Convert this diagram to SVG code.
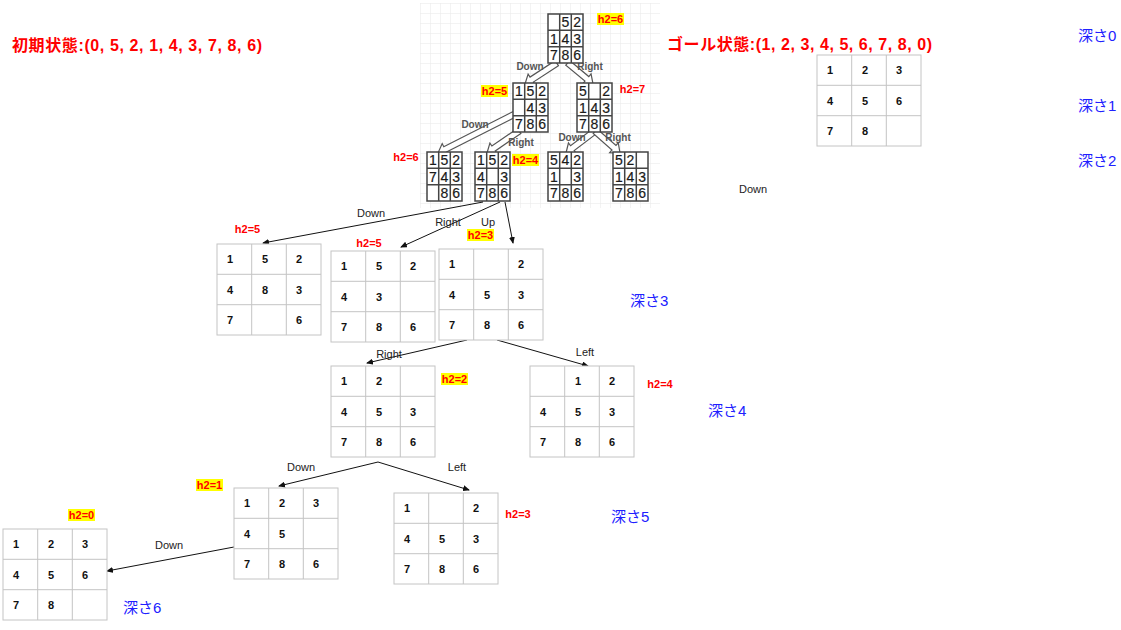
<svg xmlns="http://www.w3.org/2000/svg" xmlns:xlink="http://www.w3.org/1999/xlink" width="1121" height="630" viewBox="0 0 1121 630">
<style>
text{font-family:"Liberation Sans","Noto Sans CJK JP",sans-serif}
.title{font-size:16px;font-weight:bold;fill:#ff0000}
.depth{font-size:15px;fill:#2020ff}
.h2{font-size:11px;font-weight:bold;fill:#ff0000;text-anchor:middle}
.hl{fill:#ffff00}
.cell{font-size:11px;font-weight:bold;fill:#111}
.elab{font-size:11px;fill:#222;text-anchor:middle}
.slab{font-size:10px;font-weight:bold;fill:#555;text-anchor:middle}
.sd{font-size:14px;fill:#1a1a1a;text-anchor:middle;stroke:#1a1a1a;stroke-width:0.2}
.conn{stroke:#111;stroke-width:1;fill:none}
.flex{fill:#fff;stroke:#555;stroke-width:1.2}
</style>
<defs>
<pattern id="gridpat" width="10" height="10" patternUnits="userSpaceOnUse" x="420" y="3">
<path d="M10 0H0V10" fill="none" stroke="#e8e8e8" stroke-width="1"/>
</pattern>
<g id="board">
<rect x="0" y="0" width="104" height="91" fill="#fff" stroke="#c4c4c4"/>
<path d="M34.7 0V91M69.3 0V91M0 30.3H104M0 60.7H104" stroke="#c4c4c4" fill="none"/>
</g>
<g id="sboard">
<rect x="0" y="0" width="35" height="49" fill="#fff" stroke="#444" stroke-width="1.5"/>
<path d="M11.7 0V49M23.3 0V49M0 16.3H35M0 32.7H35" stroke="#444" stroke-width="1.5" fill="none"/>
</g>
<marker id="arr" markerWidth="7" markerHeight="6" refX="6" refY="3" orient="auto" markerUnits="userSpaceOnUse">
<path d="M0 0L7 3L0 6Z" fill="#111"/>
</marker>
</defs>
<rect width="1121" height="630" fill="#fff"/>

<g id="image-area">
<rect x="420" y="3" width="240" height="205" fill="url(#gridpat)"/>
</g>

<g id="titles">
<text class="title" x="12" y="51" textLength="250" lengthAdjust="spacing">初期状態:(0, 5, 2, 1, 4, 3, 7, 8, 6)</text>
<text class="title" x="667" y="50" textLength="265" lengthAdjust="spacing">ゴール状態:(1, 2, 3, 4, 5, 6, 7, 8, 0)</text>
</g>

<g id="depths">
<text class="depth" x="1078" y="41">深さ0</text>
<text class="depth" x="1078" y="111">深さ1</text>
<text class="depth" x="1078" y="166">深さ2</text>
<text class="depth" x="630" y="306">深さ3</text>
<text class="depth" x="708" y="416">深さ4</text>
<text class="depth" x="611" y="522">深さ5</text>
<text class="depth" x="123" y="613">深さ6</text>
</g>

<g id="flex-connectors">
<polygon class="flex" transform="translate(525,84) rotate(146.7)" points="-38,-3 -8,-3 -8,-6.5 0,0 -8,6.5 -8,3 -38,3"/>
<polygon class="flex" transform="translate(593,84) rotate(40)" points="-33,-3 -8,-3 -8,-6.5 0,0 -8,6.5 -8,3 -33,3"/>
<polygon class="flex" transform="translate(438,153) rotate(153.1)" points="-88,-3 -8,-3 -8,-6.5 0,0 -8,6.5 -8,3 -88,3"/>
<polygon class="flex" transform="translate(487,153) rotate(145.5)" points="-39,-3 -8,-3 -8,-6.5 0,0 -8,6.5 -8,3 -39,3"/>
<polygon class="flex" transform="translate(566,153) rotate(142.8)" points="-36,-3 -8,-3 -8,-6.5 0,0 -8,6.5 -8,3 -36,3"/>
<polygon class="flex" transform="translate(620,153) rotate(41.3)" points="-33,-3 -8,-3 -8,-6.5 0,0 -8,6.5 -8,3 -33,3"/>
<text class="slab" x="530" y="70">Down</text>
<text class="slab" x="590" y="70">Right</text>
<text class="slab" x="475" y="128">Down</text>
<text class="slab" x="521" y="146">Right</text>
<text class="slab" x="572" y="141">Down</text>
<text class="slab" x="618" y="141">Right</text>
</g>

<g id="s-top" transform="translate(548,14)">
<use href="#sboard"/>
<text class="sd" x="17.5" y="13.3">5</text><text class="sd" x="29.2" y="13.3">2</text>
<text class="sd" x="5.8" y="29.6">1</text><text class="sd" x="17.5" y="29.6">4</text><text class="sd" x="29.2" y="29.6">3</text>
<text class="sd" x="5.8" y="45.9">7</text><text class="sd" x="17.5" y="45.9">8</text><text class="sd" x="29.2" y="45.9">6</text>
</g>
<g id="s-l1a" transform="translate(513,83)">
<use href="#sboard"/>
<text class="sd" x="5.8" y="13.3">1</text><text class="sd" x="17.5" y="13.3">5</text><text class="sd" x="29.2" y="13.3">2</text>
<text class="sd" x="17.5" y="29.6">4</text><text class="sd" x="29.2" y="29.6">3</text>
<text class="sd" x="5.8" y="45.9">7</text><text class="sd" x="17.5" y="45.9">8</text><text class="sd" x="29.2" y="45.9">6</text>
</g>
<g id="s-l1b" transform="translate(577,83)">
<use href="#sboard"/>
<text class="sd" x="5.8" y="13.3">5</text><text class="sd" x="29.2" y="13.3">2</text>
<text class="sd" x="5.8" y="29.6">1</text><text class="sd" x="17.5" y="29.6">4</text><text class="sd" x="29.2" y="29.6">3</text>
<text class="sd" x="5.8" y="45.9">7</text><text class="sd" x="17.5" y="45.9">8</text><text class="sd" x="29.2" y="45.9">6</text>
</g>
<g id="s-l2a" transform="translate(427,152)">
<use href="#sboard"/>
<text class="sd" x="5.8" y="13.3">1</text><text class="sd" x="17.5" y="13.3">5</text><text class="sd" x="29.2" y="13.3">2</text>
<text class="sd" x="5.8" y="29.6">7</text><text class="sd" x="17.5" y="29.6">4</text><text class="sd" x="29.2" y="29.6">3</text>
<text class="sd" x="17.5" y="45.9">8</text><text class="sd" x="29.2" y="45.9">6</text>
</g>
<g id="s-l2b" transform="translate(475,152)">
<use href="#sboard"/>
<text class="sd" x="5.8" y="13.3">1</text><text class="sd" x="17.5" y="13.3">5</text><text class="sd" x="29.2" y="13.3">2</text>
<text class="sd" x="5.8" y="29.6">4</text><text class="sd" x="29.2" y="29.6">3</text>
<text class="sd" x="5.8" y="45.9">7</text><text class="sd" x="17.5" y="45.9">8</text><text class="sd" x="29.2" y="45.9">6</text>
</g>
<g id="s-l2c" transform="translate(548,152)">
<use href="#sboard"/>
<text class="sd" x="5.8" y="13.3">5</text><text class="sd" x="17.5" y="13.3">4</text><text class="sd" x="29.2" y="13.3">2</text>
<text class="sd" x="5.8" y="29.6">1</text><text class="sd" x="29.2" y="29.6">3</text>
<text class="sd" x="5.8" y="45.9">7</text><text class="sd" x="17.5" y="45.9">8</text><text class="sd" x="29.2" y="45.9">6</text>
</g>
<g id="s-l2d" transform="translate(613,152)">
<use href="#sboard"/>
<text class="sd" x="5.8" y="13.3">5</text><text class="sd" x="17.5" y="13.3">2</text>
<text class="sd" x="5.8" y="29.6">1</text><text class="sd" x="17.5" y="29.6">4</text><text class="sd" x="29.2" y="29.6">3</text>
<text class="sd" x="5.8" y="45.9">7</text><text class="sd" x="17.5" y="45.9">8</text><text class="sd" x="29.2" y="45.9">6</text>
</g>

<g id="h2-labels">
<rect class="hl" x="597" y="13" width="27" height="12"/><text class="h2" x="610.5" y="23">h2=6</text>
<rect class="hl" x="481" y="85" width="27" height="12"/><text class="h2" x="494.5" y="95">h2=5</text>
<text class="h2" x="632.5" y="93">h2=7</text>
<text class="h2" x="406" y="161">h2=6</text>
<rect class="hl" x="512" y="154" width="27" height="12"/><text class="h2" x="525.5" y="164">h2=4</text>
<text class="h2" x="247.5" y="233">h2=5</text>
<text class="h2" x="369" y="247">h2=5</text>
<rect class="hl" x="467" y="229" width="27" height="12"/><text class="h2" x="480.5" y="239">h2=3</text>
<rect class="hl" x="441" y="373" width="27" height="12"/><text class="h2" x="454.5" y="383">h2=2</text>
<text class="h2" x="660" y="388">h2=4</text>
<rect class="hl" x="196" y="479" width="27" height="12"/><text class="h2" x="209.5" y="489">h2=1</text>
<text class="h2" x="518" y="518">h2=3</text>
<rect class="hl" x="68" y="509" width="27" height="12"/><text class="h2" x="81.5" y="519">h2=0</text>
</g>

<g id="connectors">
<path class="conn" d="M483 202L263 243" marker-end="url(#arr)"/>
<path class="conn" d="M500 202L401 247" marker-end="url(#arr)"/>
<path class="conn" d="M505 202L513 243" marker-end="url(#arr)"/>
<path class="conn" d="M467 340L367 363" marker-end="url(#arr)"/>
<path class="conn" d="M497 340L588 366" marker-end="url(#arr)"/>
<path class="conn" d="M378 462L279 486" marker-end="url(#arr)"/>
<path class="conn" d="M378 462L469 490" marker-end="url(#arr)"/>
<path class="conn" d="M234 547L107 571" marker-end="url(#arr)"/>
<text class="elab" x="371" y="217">Down</text>
<text class="elab" x="448" y="226">Right</text>
<text class="elab" x="488" y="226">Up</text>
<text class="elab" x="389" y="358">Right</text>
<text class="elab" x="585" y="356">Left</text>
<text class="elab" x="301" y="471">Down</text>
<text class="elab" x="457" y="471">Left</text>
<text class="elab" x="169" y="549">Down</text>
<text class="elab" x="753" y="193">Down</text>
</g>

<g id="goal" transform="translate(817,55)">
<use href="#board"/>
<text class="cell" x="10" y="19">1</text><text class="cell" x="45" y="19">2</text><text class="cell" x="79" y="19">3</text>
<text class="cell" x="10" y="50">4</text><text class="cell" x="45" y="50">5</text><text class="cell" x="79" y="50">6</text>
<text class="cell" x="10" y="80">7</text><text class="cell" x="45" y="80">8</text>
</g>
<g id="d3a" transform="translate(217,244)">
<use href="#board"/>
<text class="cell" x="10" y="19">1</text><text class="cell" x="45" y="19">5</text><text class="cell" x="79" y="19">2</text>
<text class="cell" x="10" y="50">4</text><text class="cell" x="45" y="50">8</text><text class="cell" x="79" y="50">3</text>
<text class="cell" x="10" y="80">7</text><text class="cell" x="79" y="80">6</text>
</g>
<g id="d3b" transform="translate(331,251)">
<use href="#board"/>
<text class="cell" x="10" y="19">1</text><text class="cell" x="45" y="19">5</text><text class="cell" x="79" y="19">2</text>
<text class="cell" x="10" y="50">4</text><text class="cell" x="45" y="50">3</text>
<text class="cell" x="10" y="80">7</text><text class="cell" x="45" y="80">8</text><text class="cell" x="79" y="80">6</text>
</g>
<g id="d3c" transform="translate(439,249)">
<use href="#board"/>
<text class="cell" x="10" y="19">1</text><text class="cell" x="79" y="19">2</text>
<text class="cell" x="10" y="50">4</text><text class="cell" x="45" y="50">5</text><text class="cell" x="79" y="50">3</text>
<text class="cell" x="10" y="80">7</text><text class="cell" x="45" y="80">8</text><text class="cell" x="79" y="80">6</text>
</g>
<g id="d4a" transform="translate(331,366)">
<use href="#board"/>
<text class="cell" x="10" y="19">1</text><text class="cell" x="45" y="19">2</text>
<text class="cell" x="10" y="50">4</text><text class="cell" x="45" y="50">5</text><text class="cell" x="79" y="50">3</text>
<text class="cell" x="10" y="80">7</text><text class="cell" x="45" y="80">8</text><text class="cell" x="79" y="80">6</text>
</g>
<g id="d4b" transform="translate(530,366)">
<use href="#board"/>
<text class="cell" x="45" y="19">1</text><text class="cell" x="79" y="19">2</text>
<text class="cell" x="10" y="50">4</text><text class="cell" x="45" y="50">5</text><text class="cell" x="79" y="50">3</text>
<text class="cell" x="10" y="80">7</text><text class="cell" x="45" y="80">8</text><text class="cell" x="79" y="80">6</text>
</g>
<g id="d5a" transform="translate(234,488)">
<use href="#board"/>
<text class="cell" x="10" y="19">1</text><text class="cell" x="45" y="19">2</text><text class="cell" x="79" y="19">3</text>
<text class="cell" x="10" y="50">4</text><text class="cell" x="45" y="50">5</text>
<text class="cell" x="10" y="80">7</text><text class="cell" x="45" y="80">8</text><text class="cell" x="79" y="80">6</text>
</g>
<g id="d5b" transform="translate(394,493)">
<use href="#board"/>
<text class="cell" x="10" y="19">1</text><text class="cell" x="79" y="19">2</text>
<text class="cell" x="10" y="50">4</text><text class="cell" x="45" y="50">5</text><text class="cell" x="79" y="50">3</text>
<text class="cell" x="10" y="80">7</text><text class="cell" x="45" y="80">8</text><text class="cell" x="79" y="80">6</text>
</g>
<g id="d6" transform="translate(3,529)">
<use href="#board"/>
<text class="cell" x="10" y="19">1</text><text class="cell" x="45" y="19">2</text><text class="cell" x="79" y="19">3</text>
<text class="cell" x="10" y="50">4</text><text class="cell" x="45" y="50">5</text><text class="cell" x="79" y="50">6</text>
<text class="cell" x="10" y="80">7</text><text class="cell" x="45" y="80">8</text>
</g>
</svg>
